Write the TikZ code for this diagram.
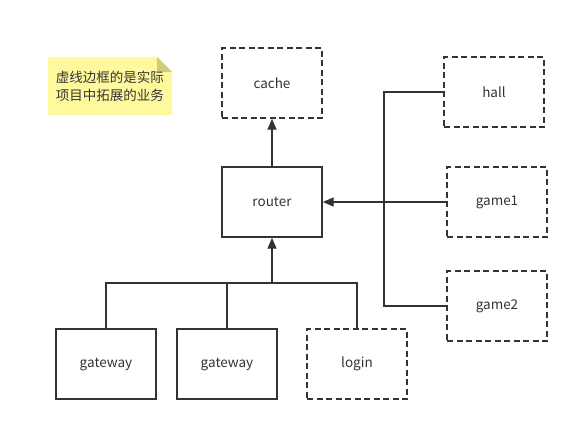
\documentclass[tikz,border=0pt]{standalone}
\usepackage{fontspec}
\setmainfont{Noto Sans CJK SC}
\usetikzlibrary{arrows.meta}
\definecolor{ln}{HTML}{333333}
\definecolor{notefill}{HTML}{FFF99E}
\definecolor{notefold}{HTML}{CFCB80}
\begin{document}
\begin{tikzpicture}[x=1pt,y=-1pt,
  solidbox/.style={draw=ln,line width=1.4pt,minimum width=100pt,minimum height=70pt,inner sep=0pt,font=\fontsize{13.5}{15}\selectfont,text=ln},
  dashbox/.style={solidbox,dash pattern=on 6pt off 3.5pt},
  conn/.style={draw=ln,line width=1.4pt},
  arr/.style={conn,-{Triangle[length=11pt,width=9pt]}}]
\useasboundingbox (0,0) rectangle (579,431);
% note
\fill[notefill] (48,57) -- (157,57) -- (172,72) -- (172,115) -- (48,115) -- cycle;
\fill[notefold] (157,57) -- (172,72) -- (157,72) -- cycle;
\node[font=\fontsize{13.5}{18}\selectfont,text=ln,align=center] (note) at (110,86) {虚线边框的是实际\\项目中拓展的业务};
% boxes
\node[dashbox] (cache) at (272,83) {cache};
\node[solidbox] (router) at (272,202) {router};
\node[dashbox] (hall) at (494,92) {hall};
\node[dashbox] (game1) at (497,202) {game1};
\node[dashbox] (game2) at (497,306) {game2};
\node[solidbox] (gw1) at (106,364) {gateway};
\node[solidbox] (gw2) at (227,364) {gateway};
\node[dashbox] (login) at (357,364) {login};
% coordinates
\coordinate (bj) at (272,283);
\coordinate (rj) at (384,202);
% connectors
\draw[arr] (router.north) -- (cache.south);
\draw[conn] (gw1.north) |- (bj) -| (login.north);
\draw[conn] (gw2.north) -- (gw2.north |- bj);
\draw[arr] (bj) -- (router.south);
\draw[conn] (hall.west) -| (rj);
\draw[conn] (game2.west) -| (rj);
\draw[arr] (game1.west) -- (router.east);
\end{tikzpicture}
\end{document}
